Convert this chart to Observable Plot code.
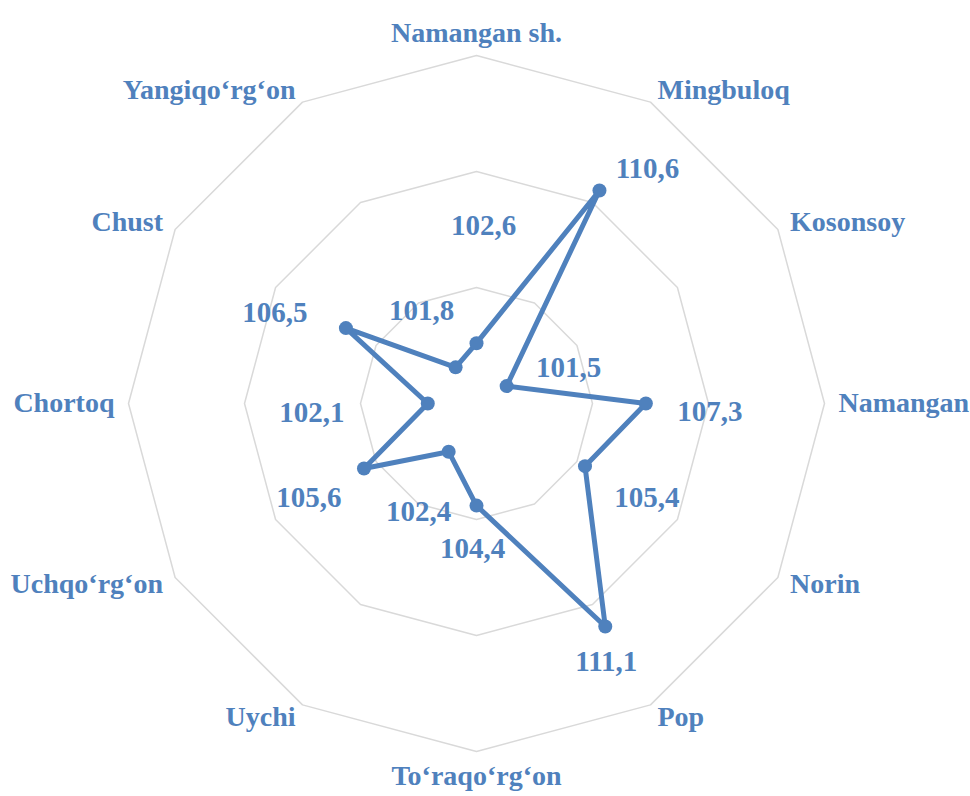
<!DOCTYPE html>
<html>
<head>
<meta charset="utf-8">
<script src="https://cdn.jsdelivr.net/npm/d3@7"></script>
<script src="https://cdn.jsdelivr.net/npm/@observablehq/plot@0.6"></script>
<style>
  html, body { margin: 0; padding: 0; background: #fff; }
  #chart svg { display: block; }
</style>
</head>
<body>
<div id="chart"></div>
<script>
// ---- data ----
const categories = ["Namangan sh.", "Mingbuloq", "Kosonsoy", "Namangan", "Norin", "Pop",
  "To‘raqo‘rg‘on", "Uychi", "Uchqo‘rg‘on", "Chortoq", "Chust", "Yangiqo‘rg‘on"];
const values = [102.6, 110.6, 101.5, 107.3, 105.4, 111.1, 104.4, 102.4, 105.6, 102.1, 106.5, 101.8];
const axisMin = 100;
const axisMax = 115;
const ringLevels = [105, 110, 115];

// ---- layout (pixels) ----
const W = 970, H = 796;
const cx = 476, cy = 403, outerR = 348;
const unit = outerR / (axisMax - axisMin);           // px per value unit
const catLabelR = 362 / unit;                         // radius of category labels (scale units)
// label centre offsets (px) relative to their point, as in the reference
const labelShift = [[7, -117], [48, -22], [62, -18], [64, 8], [62, 32], [1, 35],
  [-4, 43], [-30, 60], [-55, 29], [-116, 9], [-71, -15], [-34, -57]];

const blue = "#4F81BD";
const grid = "#D9D9D9";
const font = "'Liberation Serif', 'Times New Roman', serif";

const n = categories.length;
const angle = i => (i * 2 * Math.PI) / n;
const px = (r, i) => r * Math.sin(angle(i));
const py = (r, i) => r * Math.cos(angle(i));

const pts = values.map((v, i) => ({
  cat: categories[i], v, i,
  x: px(v - axisMin, i), y: py(v - axisMin, i),
  lx: px(v - axisMin, i) + labelShift[i][0] / unit,
  ly: py(v - axisMin, i) - labelShift[i][1] / unit,
  label: String(v).replace(".", ",")
}));
const loop = [...pts, pts[0]];

const rings = ringLevels.flatMap(level =>
  d3.range(n + 1).map(k => ({level, x: px(level - axisMin, k % n), y: py(level - axisMin, k % n)})));

const cats = categories.map((c, i) => ({c, i, x: px(catLabelR, i), y: py(catLabelR, i)}));
const catsRight = cats.filter(d => d.i > 0 && d.i < n / 2);
const catsLeft = cats.filter(d => d.i > n / 2);
const catsTop = cats.filter(d => d.i === 0);
const catsBottom = cats.filter(d => d.i === n / 2);

const catText = (data, opts) => Plot.text(data, {
  x: "x", y: "y", text: "c", fill: blue, fontWeight: "bold", fontSize: 28,
  fontFamily: font, ...opts
});

const chart = Plot.plot({
  width: W, height: H,
  marginTop: 0, marginRight: 0, marginBottom: 0, marginLeft: 0,
  x: {domain: [-cx / unit, (W - cx) / unit], axis: null},
  y: {domain: [-(H - cy) / unit, cy / unit], axis: null},
  style: {fontFamily: font, background: "#fff"},
  marks: [
    Plot.line(rings, {x: "x", y: "y", z: "level", stroke: grid, strokeWidth: 1.5}),
    Plot.line(loop, {x: "x", y: "y", stroke: blue, strokeWidth: 5, strokeLinejoin: "round"}),
    Plot.dot(pts, {x: "x", y: "y", r: 7, fill: blue}),
    Plot.text(pts, {x: "lx", y: "ly", text: "label", fill: blue, fontWeight: "bold",
      fontSize: 29, fontFamily: font}),
    catText(catsRight, {textAnchor: "start"}),
    catText(catsLeft, {textAnchor: "end"}),
    catText(catsTop, {lineAnchor: "bottom"}),
    catText(catsBottom, {lineAnchor: "top"})
  ]
});
document.getElementById("chart").appendChild(chart);
</script>
</body>
</html>
